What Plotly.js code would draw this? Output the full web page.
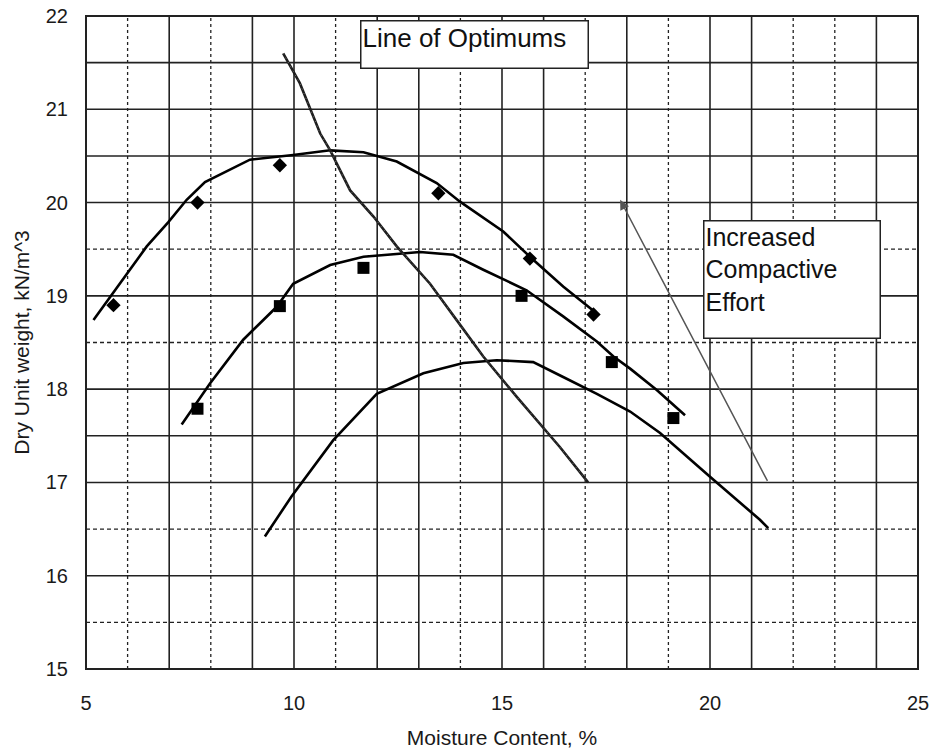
<!DOCTYPE html>
<html>
<head>
<meta charset="utf-8">
<script src="https://cdn.plot.ly/plotly-3.0.1.min.js"></script>
<style>html,body{margin:0;padding:0;background:#fff;}#chart{width:930px;height:749px;}</style>
</head>
<body>
<div id="chart"></div>
<script>
// ---- data ----
var curve1X = [5.18, 6.02, 6.46, 6.98, 7.42, 7.86, 8.94, 9.98, 10.87, 11.67, 12.47, 13.43, 13.99, 15.03, 15.67, 16.47, 17.28];
var curve1Y = [18.74, 19.25, 19.53, 19.79, 20.03, 20.22, 20.46, 20.51, 20.56, 20.54, 20.44, 20.21, 20.01, 19.69, 19.42, 19.10, 18.81];

var curve2X = [7.30, 7.98, 8.78, 9.58, 9.98, 10.87, 11.67, 13.03, 13.83, 14.55, 15.59, 16.47, 17.28, 17.68, 18.08, 18.72, 19.40];
var curve2Y = [17.62, 18.06, 18.53, 18.88, 19.13, 19.33, 19.42, 19.47, 19.44, 19.28, 19.06, 18.78, 18.51, 18.35, 18.22, 17.99, 17.72];

var curve3X = [9.30, 9.94, 10.94, 11.99, 13.11, 14.07, 14.87, 15.75, 16.47, 17.28, 18.08, 18.80, 20.00, 21.20, 21.40];
var curve3Y = [16.42, 16.85, 17.45, 17.95, 18.17, 18.28, 18.31, 18.29, 18.13, 17.95, 17.76, 17.53, 17.06, 16.60, 16.51];

var diamondX = [5.66, 7.68, 9.66, 13.47, 15.67, 17.20];
var diamondY = [18.90, 20.00, 20.40, 20.10, 19.40, 18.80];

var squareX = [7.68, 9.66, 11.67, 15.47, 17.64, 19.12];
var squareY = [17.79, 18.89, 19.30, 19.00, 18.29, 17.69];

var optimumX = [9.74, 10.14, 10.63, 10.87, 11.35, 11.91, 12.47, 13.27, 13.91, 14.55, 15.35, 16.39, 17.07];
var optimumY = [21.60, 21.28, 20.74, 20.56, 20.13, 19.85, 19.53, 19.13, 18.74, 18.35, 17.92, 17.38, 17.00];

var effortArrowFrom = [21.40, 17.00];
var effortArrowTo = [17.84, 20.03];

var xTicks = [5, 10, 15, 20, 25];
var yTicks = [15, 16, 17, 18, 19, 20, 21, 22];

var gridXSolid = [7, 9, 10, 12, 13, 15, 16, 18, 20, 21, 24];
var gridXDashed = [6, 8, 11, 14, 17, 19, 22, 23];
var gridYSolid = [16, 17, 17.5, 18, 19, 20, 20.5, 21, 21.5];
var gridYDashed = [15.5, 16.5, 18.5, 19.5];

var labelOptimums = 'Line of Optimums';
var labelEffort = 'Increased<br>Compactive<br>Effort';
var titleX = 'Moisture Content, %';
var titleY = 'Dry Unit weight, kN/m^3';

// ---- build ----
var FONT = 'Liberation Sans, Arial, sans-serif';
var shapes = [];
gridXSolid.forEach(function (v) {
  shapes.push({type: 'line', xref: 'x', yref: 'y', x0: v, x1: v, y0: 15, y1: 22, layer: 'below',
    line: {color: '#222', width: 1.6}});
});
gridXDashed.forEach(function (v) {
  shapes.push({type: 'line', xref: 'x', yref: 'y', x0: v, x1: v, y0: 15, y1: 22, layer: 'below',
    line: {color: '#222', width: 1.3, dash: '3px,3px'}});
});
gridYSolid.forEach(function (v) {
  shapes.push({type: 'line', xref: 'x', yref: 'y', x0: 5, x1: 25, y0: v, y1: v, layer: 'below',
    line: {color: '#222', width: 1.6}});
});
gridYDashed.forEach(function (v) {
  shapes.push({type: 'line', xref: 'x', yref: 'y', x0: 5, x1: 25, y0: v, y1: v, layer: 'below',
    line: {color: '#222', width: 1.3, dash: '4px,3px'}});
});
shapes.push({type: 'rect', xref: 'paper', yref: 'paper', x0: 0, x1: 1, y0: 0, y1: 1,
  line: {color: '#222', width: 2}});

var traces = [
  {x: curve1X, y: curve1Y, mode: 'lines', line: {color: '#000', width: 2.6}, hoverinfo: 'skip'},
  {x: curve2X, y: curve2Y, mode: 'lines', line: {color: '#000', width: 2.6}, hoverinfo: 'skip'},
  {x: curve3X, y: curve3Y, mode: 'lines', line: {color: '#000', width: 2.6}, hoverinfo: 'skip'},
  {x: optimumX, y: optimumY, mode: 'lines', line: {color: '#1e1e1e', width: 2.6}, hoverinfo: 'skip'},
  {x: optimumX, y: optimumY, mode: 'lines', line: {color: '#8a8a8a', width: 0.8, dash: '1px,4px'}, hoverinfo: 'skip'},
  {x: diamondX, y: diamondY, mode: 'markers', marker: {symbol: 'diamond', size: 11, color: '#000'}},
  {x: squareX, y: squareY, mode: 'markers', marker: {symbol: 'square', size: 12, color: '#000'}}
];

var annotations = [
  {xref: 'x', yref: 'y', x: effortArrowTo[0], y: effortArrowTo[1], ax: effortArrowFrom[0], ay: effortArrowFrom[1],
    axref: 'x', ayref: 'y', text: '', showarrow: true, arrowhead: 2, arrowsize: 1.3, arrowwidth: 1.5, arrowcolor: '#555'},
  {xref: 'x', yref: 'y', x: 14.35, y: 21.69, text: labelOptimums, showarrow: false,
    font: {family: FONT, size: 26, color: '#111'}, align: 'left', valign: 'top',
    width: 224, height: 44, bgcolor: '#fff', bordercolor: '#222', borderwidth: 1.5, borderpad: 1},
  {xref: 'x', yref: 'y', x: 21.96, y: 19.18, text: labelEffort, showarrow: false,
    font: {family: FONT, size: 25, color: '#111'}, align: 'left', valign: 'top',
    width: 173, height: 114, bgcolor: '#fff', bordercolor: '#222', borderwidth: 1.5, borderpad: 1}
];

var layout = {
  width: 930, height: 749,
  margin: {l: 86, r: 12, t: 16, b: 80},
  paper_bgcolor: '#fff', plot_bgcolor: '#fff',
  showlegend: false,
  font: {family: FONT, color: '#1a1a1a'},
  xaxis: {range: [5, 25], tickvals: xTicks, ticktext: xTicks.map(String), showgrid: false, zeroline: false,
    ticks: '', ticklabelstandoff: 20, tickfont: {size: 20, family: FONT, color: '#1a1a1a'},
    title: {text: titleX, font: {size: 21, family: FONT, color: '#1a1a1a'}, standoff: 18}, fixedrange: true},
  yaxis: {range: [15, 22], tickvals: yTicks, ticktext: yTicks.map(String), showgrid: false, zeroline: false,
    ticks: '', ticklabelstandoff: 17, tickfont: {size: 20, family: FONT, color: '#1a1a1a'},
    title: {text: titleY, font: {size: 21, family: FONT, color: '#1a1a1a'}, standoff: 10}, fixedrange: true},
  shapes: shapes,
  annotations: annotations
};

Plotly.newPlot('chart', traces, layout, {displayModeBar: false, staticPlot: true});
</script>
</body>
</html>
